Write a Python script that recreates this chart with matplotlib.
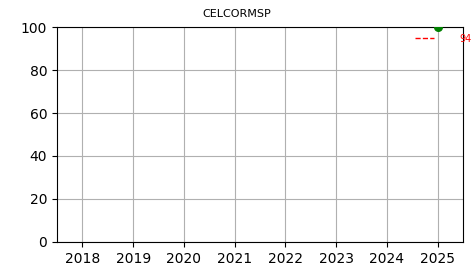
import matplotlib
matplotlib.use('Agg')
import matplotlib.pyplot as plt

# data
years = [2025]
values = [100]
target_value = 94
target_label = '94'
xticks = [2018, 2019, 2020, 2021, 2022, 2023, 2024, 2025]
yticks = [0, 20, 40, 60, 80, 100]

fig = plt.figure(figsize=(4.73, 2.69), dpi=100)
ax = fig.add_axes([0.1205, 0.1004, 0.8585, 0.7992])

ax.scatter(years, values, color='green', s=30, zorder=3)
ax.hlines(target_value + 0.8, 2024.55, 2024.93, colors='red', linestyles='--', linewidth=1)
ax.text(2025.42, target_value + 0.3, target_label, color='red', fontsize=7, va='center', ha='left', clip_on=False)

ax.set_xlim(2017.5, 2025.5)
ax.set_ylim(0, 100)
ax.set_xticks(xticks)
ax.set_yticks(yticks)
ax.grid(True)

# title is centred on the figure, not the axes
fig.suptitle('CELCORMSP', fontsize=8, x=0.5, y=0.948, va='center')

fig.savefig('out.png', dpi=100)
